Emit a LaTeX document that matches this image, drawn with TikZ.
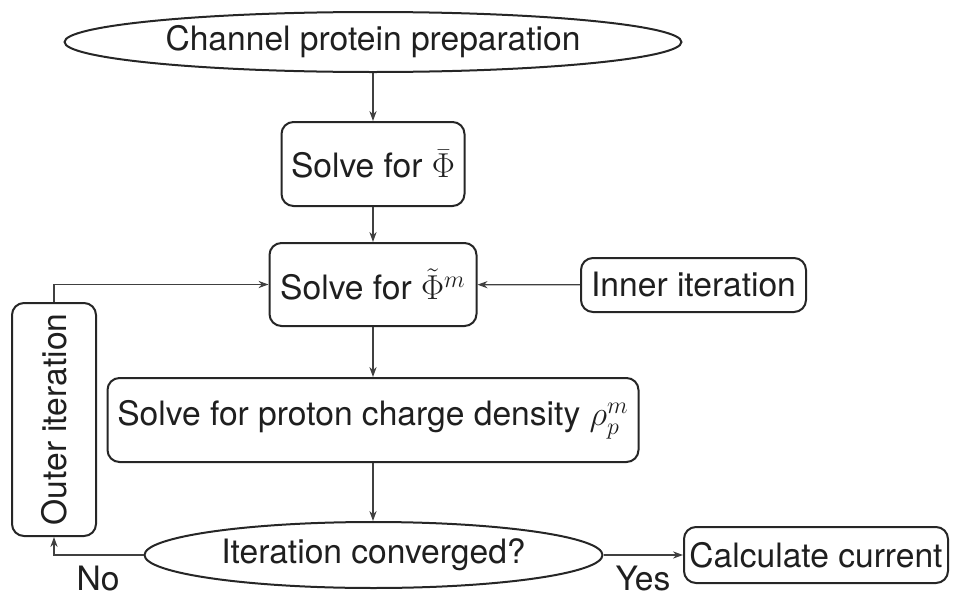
\documentclass[tikz,border=0pt]{standalone}
\usepackage{fontspec}
\setmainfont{TeX Gyre Heros}
\usetikzlibrary{arrows.meta,shapes.geometric}
\begin{document}
\begin{tikzpicture}[x=0.5pt,y=-0.5pt,
  txt/.style={text=black!88, font=\fontsize{16.8}{20}\selectfont},
  box/.style={txt, draw=black!85, line width=1pt, rounded corners=6pt, align=center, inner sep=0pt},
  oval/.style={txt, ellipse, draw=black!85, line width=1pt, inner sep=0pt},
  arr/.style={-{Stealth[length=5pt,width=3.6pt]}, line width=0.6pt, draw=black!75}]
\useasboundingbox (0,0) rectangle (960,600);
\node[oval, minimum width=308.5pt, minimum height=30pt] (prep) at (373,42) {Channel protein preparation};
\node[box, minimum width=91.5pt, minimum height=42pt] (bar) at (373,164) {Solve for $\bar{\Phi}$};
\node[box, minimum width=103.5pt, minimum height=41.5pt] (tilde) at (373,284.5) {Solve for $\tilde{\Phi}^m$};
\node[box, minimum width=112.5pt, minimum height=27pt] (inner) at (693.5,285) {Inner iteration};
\node[box, minimum width=116.5pt, minimum height=42pt, rotate=90] (outer) at (54,419.5) {Outer iteration};
\node[box, minimum width=265.5pt, minimum height=42pt] (rho) at (373,420) {Solve for proton charge density $\rho_p^m$};
\node[oval, minimum width=229pt, minimum height=33pt] (conv) at (373.5,555) {Iteration converged?};
\node[box, minimum width=132pt, minimum height=28pt] (calc) at (816,555) {Calculate current};
\node[txt] (no) at (98,578) {No};
\node[txt] (yes) at (643,578) {Yes};
\draw[arr] (prep) -- (bar);
\draw[arr] (bar) -- (tilde);
\draw[arr] (inner) -- (tilde);
\draw[arr] (tilde) -- (rho);
\draw[arr] (rho.south) -- (rho.south |- conv.north);
\draw[arr] (conv) -- (calc);
\draw[arr] (conv.west) -| (outer.west);
\draw[arr] (outer.east) |- (tilde.west);
\end{tikzpicture}
\end{document}
